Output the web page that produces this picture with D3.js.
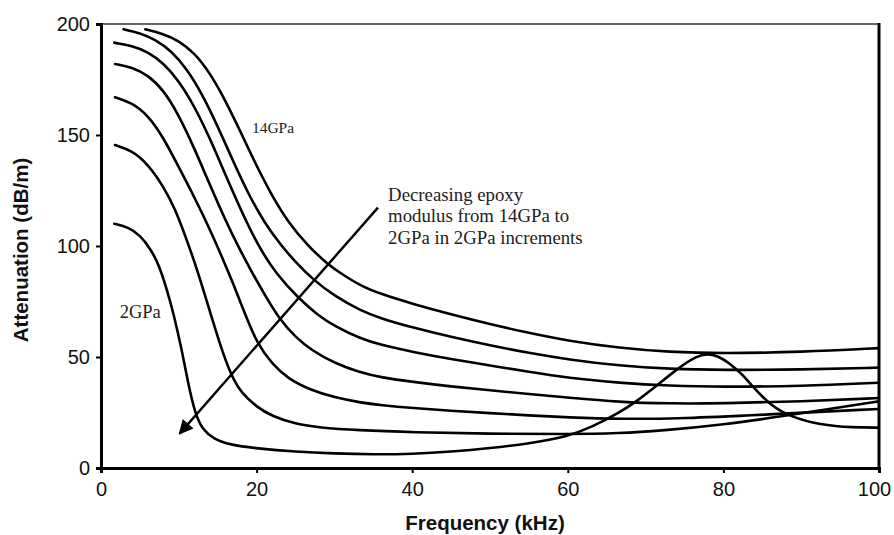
<!DOCTYPE html>
<html><head><meta charset="utf-8">
<script src="https://cdn.jsdelivr.net/npm/d3@7"></script>
<style>body{margin:0;background:#fff}svg{display:block}</style>
</head><body><svg id="c" width="894" height="535"></svg>
<script>
// Data: attenuation (dB/m) vs frequency (kHz), epoxy modulus 2..14 GPa
const xTicks = [0, 20, 40, 60, 80, 100];
const yTicks = [0, 50, 100, 150, 200];
const modulus = ["14GPa", "12GPa", "10GPa", "8GPa", "6GPa", "4GPa", "2GPa"];
const s14 = [[5.7,197.6],[8,195.6],[10,192.5],[12,187],[14,178],[16,165.5],[18,151],[20,136],[22,122.5],[24,111],[26.6,100],[29.2,91.6],[31,87.3],[33.3,82.2],[36,78.3],[40,74],[45,69.2],[50,64.8],[55,60.8],[60,57.3],[66.7,54],[73,52.2],[80,51.6],[90,52.2],[100,54]];
const s12 = [[2.9,197.6],[5,196],[7,193],[9,188],[11,180],[13,168.5],[15,154],[17,138],[19,123],[21,110.5],[23.2,100],[25,92.8],[27.3,84.7],[30,77.5],[33.3,71],[36,67.3],[40,63.3],[45,59],[50,55.2],[55,51.8],[60,48.9],[66.7,46],[73,44.6],[80,44.1],[90,44.3],[100,45.2]];
const s10 = [[1.7,191.6],[4,190.2],[6,187.5],[8,182.5],[10,174.5],[12,163],[14,148.5],[16,132],[18,116],[20.2,100],[22.5,87.5],[25.4,76.4],[28,68.5],[30,64],[33.3,58.3],[36,55.4],[40,52.3],[45,49],[50,46.2],[55,43.3],[60,40.6],[66.7,38.3],[73,37],[80,36.5],[90,36.9],[100,38.4]];
const s8 = [[1.8,182],[4,180.5],[6,177],[8,170.5],[10,159],[12,144],[14,127.5],[16,111.5],[17.6,100],[19.5,87.5],[21,78.3],[23,66.7],[25,59],[27,53.2],[30,47.2],[33.3,43],[36,40.8],[40,38.8],[45,36.7],[50,35],[55,33.3],[60,31.7],[66.7,29.7],[73,29],[80,29.1],[90,30],[100,31.5]];
const s6 = [[1.8,167],[4,164.5],[6,159],[8,149],[10,135.5],[12,122],[14,107.5],[15.5,95.5],[17,83],[18.5,69.5],[20,56.5],[22,46.8],[24,40.3],[27,35],[30,31.8],[33.3,29.5],[36,28.3],[40,27],[45,25.8],[50,24.7],[55,23.7],[60,22.8],[66.7,22],[75,22.3],[85,24],[100,26.6]];
const s4 = [[1.8,145.5],[4,143],[6,137],[8,127],[9.5,117],[11,103],[12,93],[13,82],[14,70.5],[15,59],[16,48.5],[17,40],[18,34],[20,27.5],[22,23.3],[25,19.8],[28,18.2],[33,17],[40,16.1],[50,15.4],[60,15.2],[66.7,15.6],[72,16.8],[80,19.5],[88,23.5],[94,26.8],[100,30]];
const s2 = [[1.7,110],[3.5,108.5],[5,105],[6.5,98],[7.5,91],[8.5,80],[9.3,70],[10.4,53],[11.2,38],[12.1,24.5],[13,17.5],[14.5,13],[16.5,10.5],[20,8.8],[25,7.3],[30,6.5],[35,6.1],[40,6.3],[45,7.3],[50,8.9],[55,11],[60,14.2],[63,18.3],[66.7,25],[69,30.5],[71,35.9],[74.4,45.6],[76.5,50.3],[77.9,51.6],[79.3,50.5],[80.8,47.2],[82.5,42],[83.8,36.5],[86,28.4],[88.6,23.1],[92.4,19.4],[96.7,18.2],[100,18.2]];
const seriesList = [s14, s12, s10, s8, s6, s4, s2];
// annotations (data units)
const labels = [{text:"14GPa", x:19.4, y:150.9, size:15.5}, {text:"2GPa", x:2.4, y:67.6, size:18.5}];
const noteLines = ["Decreasing epoxy", "modulus from 14GPa to", "2GPa in 2GPa increments"];
const notePos = {x:36.9, y:120.2};
const arrowFrom = [35.6, 117.3], arrowTo = [10.1, 15.5];

const svg = d3.select("#c");
const L = 101, R = 879, T = 24, B = 468;
const x = d3.scaleLinear().domain([0, 100]).range([L, R]);
const y = d3.scaleLinear().domain([0, 200]).range([B, T]);

svg.append("defs").append("clipPath").attr("id","clip").append("rect")
  .attr("x", L).attr("y", T).attr("width", R - L).attr("height", B - T);
const m = svg.append("defs").append("marker").attr("id","ah")
  .attr("viewBox","0 0 10 10").attr("refX",9).attr("refY",5)
  .attr("markerWidth",7).attr("markerHeight",6).attr("markerUnits","strokeWidth").attr("orient","auto");
m.append("path").attr("d","M0,0 L10,5 L0,10 z").attr("fill","#000");

// frame top & right
svg.append("line").attr("x1", L).attr("x2", R).attr("y1", T).attr("y2", T)
  .attr("stroke", "#333").attr("stroke-width", 1.6);
svg.append("line").attr("x1", R).attr("x2", R).attr("y1", T - 1).attr("y2", B)
  .attr("stroke", "#000").attr("stroke-width", 3);

const line = d3.line().x(d => x(d[0])).y(d => y(d[1])).curve(d3.curveBasis);
svg.append("g").attr("clip-path","url(#clip)").selectAll("path").data(seriesList).join("path")
  .attr("d", line).attr("fill","none").attr("stroke","#000").attr("stroke-width",2.6)
  .attr("stroke-linejoin","round").attr("stroke-linecap","round");

// axes
const gx = svg.append("g").attr("transform", `translate(0,${B})`)
  .call(d3.axisBottom(x).tickValues(xTicks).tickSize(5).tickPadding(9).tickFormat(d3.format("d")));
const gy = svg.append("g").attr("transform", `translate(${L},0)`)
  .call(d3.axisLeft(y).tickValues(yTicks).tickSize(5).tickPadding(6).tickFormat(d3.format("d")));
[gx, gy].forEach(g => {
  g.select(".domain").attr("stroke","#000").attr("stroke-width",3);
  g.selectAll(".tick line").attr("stroke","#000").attr("stroke-width",2);
  g.selectAll(".tick text").attr("fill","#111").attr("font-family","'Liberation Sans', Arial, sans-serif").attr("font-size",20);
});
gx.selectAll(".tick text").filter(d => d === 100).attr("dx", -5);

// axis titles
svg.append("text").attr("x", 485).attr("y", 530).attr("text-anchor","middle")
  .attr("font-family","'Liberation Sans', Arial, sans-serif").attr("font-weight","bold").attr("font-size",20.5)
  .attr("fill","#111").text("Frequency (kHz)");
svg.append("text").attr("transform","translate(28,250) rotate(-90)").attr("text-anchor","middle")
  .attr("font-family","'Liberation Sans', Arial, sans-serif").attr("font-weight","bold").attr("font-size",20.5)
  .attr("fill","#111").text("Attenuation (dB/m)");

// curve labels
svg.selectAll("text.lab").data(labels).join("text").attr("class","lab")
  .attr("x", d => x(d.x)).attr("y", d => y(d.y))
  .attr("font-family","'Liberation Serif', 'Times New Roman', serif").attr("font-size", d => d.size).attr("fill","#222")
  .text(d => d.text);

// note
svg.append("text").attr("font-family","'Liberation Serif', 'Times New Roman', serif").attr("font-size",18.8).attr("fill","#222")
  .selectAll("tspan").data(noteLines).join("tspan")
  .attr("x", x(notePos.x)).attr("y", (d,i) => y(notePos.y) + i*21.3).text(d => d);

// arrow
svg.append("line").attr("x1", x(arrowFrom[0])).attr("y1", y(arrowFrom[1]))
  .attr("x2", x(arrowTo[0])).attr("y2", y(arrowTo[1]))
  .attr("stroke","#000").attr("stroke-width",2.4).attr("marker-end","url(#ah)");
</script></body></html>
